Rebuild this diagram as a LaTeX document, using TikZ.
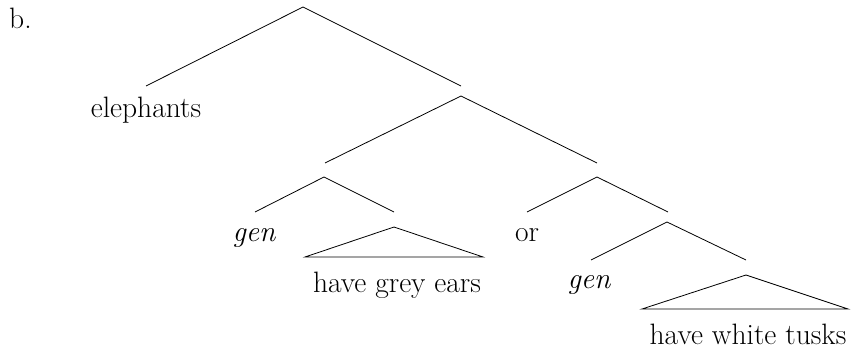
\documentclass[tikz,border=0pt]{standalone}
\begin{document}
\begin{tikzpicture}[x=1pt,y=-1pt,
  edge/.style={line width=0.8pt},
  lbl/.style={inner sep=0pt, anchor=base, font=\fontsize{29.5}{34}\selectfont},
  ilbl/.style={lbl, font=\fontsize{29.5}{34}\selectfont\itshape}]
\useasboundingbox (0,0) rectangle (851,348);
\node[lbl, anchor=base west] (b) at (9,28) {b.};
% root
\coordinate (r) at (303,7);
\coordinate (rl) at (146,86);
\coordinate (rr) at (461,86);
\node[lbl] (eleph) at (146,117) {elephants};
% right daughter
\coordinate (n1) at (461,96);
\coordinate (n1l) at (325,163);
\coordinate (n1r) at (597,163);
% left conjunct
\coordinate (n2) at (324,177);
\coordinate (n2l) at (255,212);
\coordinate (n2r) at (394,212);
\node[ilbl] (gen1) at (254,241) {gen};
\coordinate (t1) at (394,227);
\coordinate (t1l) at (305,257);
\coordinate (t1r) at (483,257);
\node[lbl] (grey) at (397,292) {have grey ears};
% or-phrase
\coordinate (n3) at (597,177);
\coordinate (n3l) at (527,212);
\coordinate (n3r) at (668,212);
\node[lbl] (or) at (527,241) {or};
\coordinate (n4) at (667,222);
\coordinate (n4l) at (591,260);
\coordinate (n4r) at (746,260);
\node[ilbl] (gen2) at (589,288) {gen};
\coordinate (t2) at (746,275);
\coordinate (t2l) at (642,309);
\coordinate (t2r) at (848,309);
\node[lbl] (tusks) at (748,344) {have white tusks};
% edges
\draw[edge] (rl) -- (r) -- (rr);
\draw[edge] (n1l) -- (n1) -- (n1r);
\draw[edge] (n2l) -- (n2) -- (n2r);
\draw[edge] (t1) -- (t1l) -- (t1r) -- cycle;
\draw[edge] (n3l) -- (n3) -- (n3r);
\draw[edge] (n4l) -- (n4) -- (n4r);
\draw[edge] (t2) -- (t2l) -- (t2r) -- cycle;
\end{tikzpicture}
\end{document}
